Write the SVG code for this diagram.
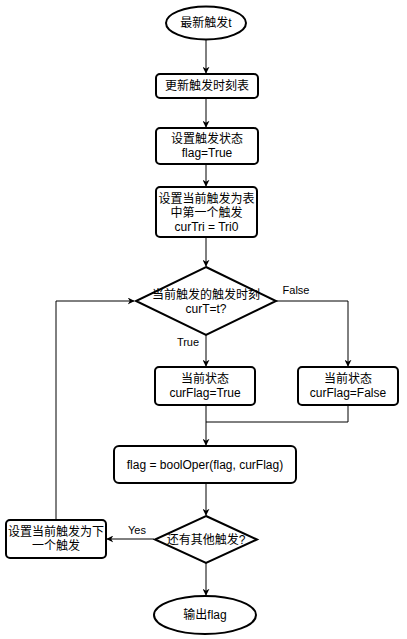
<svg xmlns="http://www.w3.org/2000/svg" width="407" height="639" viewBox="0 0 407 639">
<style>
.n{fill:#fff;stroke:#000;stroke-width:2}
.t{font-family:"Liberation Sans","Noto Sans CJK SC",sans-serif;font-size:12px;fill:#000;text-anchor:middle}
.e{fill:none;stroke:#000;stroke-width:1}
.l{font-family:"Liberation Sans","Noto Sans CJK SC",sans-serif;font-size:11px;fill:#000;text-anchor:middle}
</style>
<defs>
<marker id="a" viewBox="0 0 10 10" refX="9" refY="5" markerWidth="7" markerHeight="7" markerUnits="userSpaceOnUse" orient="auto">
<path d="M0,0 L10,5 L0,10 L3,5 Z" fill="#000"/>
</marker>
</defs>
<rect width="407" height="639" fill="#fff"/>
<g id="connectors">
<path class="e" d="M206,40 V73" marker-end="url(#a)"/>
<path class="e" d="M206,98 V127" marker-end="url(#a)"/>
<path class="e" d="M206,164 V186" marker-end="url(#a)"/>
<path class="e" d="M206,237 V266" marker-end="url(#a)"/>
<path class="e" d="M206,335 V366" marker-end="url(#a)"/>
<path class="e" d="M276,301 H348 V366" marker-end="url(#a)"/>
<path class="e" d="M206,405 V422"/>
<path class="e" d="M348,405 V422 H206 V445" marker-end="url(#a)"/>
<path class="e" d="M206,483 V515" marker-end="url(#a)"/>
<path class="e" d="M154,539 H107" marker-end="url(#a)"/>
<path class="e" d="M206,563 V595" marker-end="url(#a)"/>
<path class="e" d="M56,520 V301 H134" marker-end="url(#a)"/>
<text class="l" x="296" y="294">False</text>
<text class="l" x="188" y="346">True</text>
<text class="l" x="137" y="534">Yes</text>
</g>
<g id="start">
<ellipse class="n" cx="206" cy="23" rx="40" ry="16.5"/>
<text class="t" x="206" y="27">最新触发t</text>
</g>
<g id="update">
<rect class="n" x="156" y="74" width="102" height="24" rx="4"/>
<text class="t" x="207" y="90">更新触发时刻表</text>
</g>
<g id="setflag">
<rect class="n" x="156" y="128" width="102" height="36" rx="4"/>
<text class="t" x="207" y="143">设置触发状态</text>
<text class="t" x="207" y="157">flag=True</text>
</g>
<g id="setcur">
<rect class="n" x="156" y="187" width="101" height="50" rx="4"/>
<text class="t" x="206.5" y="203">设置当前触发为表</text>
<text class="t" x="206.5" y="217">中第一个触发</text>
<text class="t" x="206.5" y="231">curTri = Tri0</text>
</g>
<g id="check">
<path class="n" d="M206,267 L276,301 L206,335 L136,301 Z"/>
<text class="t" x="206" y="299">当前触发的触发时刻</text>
<text class="t" x="206" y="313">curT=t?</text>
</g>
<g id="curtrue">
<rect class="n" x="155" y="367" width="100" height="38" rx="4"/>
<text class="t" x="205" y="383">当前状态</text>
<text class="t" x="205" y="397">curFlag=True</text>
</g>
<g id="curfalse">
<rect class="n" x="298" y="367" width="100" height="38" rx="4"/>
<text class="t" x="348" y="383">当前状态</text>
<text class="t" x="348" y="397">curFlag=False</text>
</g>
<g id="boolop">
<rect class="n" x="114" y="446" width="182" height="37" rx="5"/>
<text class="t" x="205" y="469">flag = boolOper(flag, curFlag)</text>
</g>
<g id="more">
<path class="n" d="M206,516 L257,539.5 L206,563 L155,539.5 Z"/>
<text class="t" x="206" y="544">还有其他触发?</text>
</g>
<g id="next">
<rect class="n" x="6" y="520" width="100" height="38" rx="4"/>
<text class="t" x="56" y="536">设置当前触发为下</text>
<text class="t" x="56" y="550">一个触发</text>
</g>
<g id="output">
<ellipse class="n" cx="205" cy="615" rx="51" ry="19"/>
<text class="t" x="205" y="619">输出flag</text>
</g>
</svg>
